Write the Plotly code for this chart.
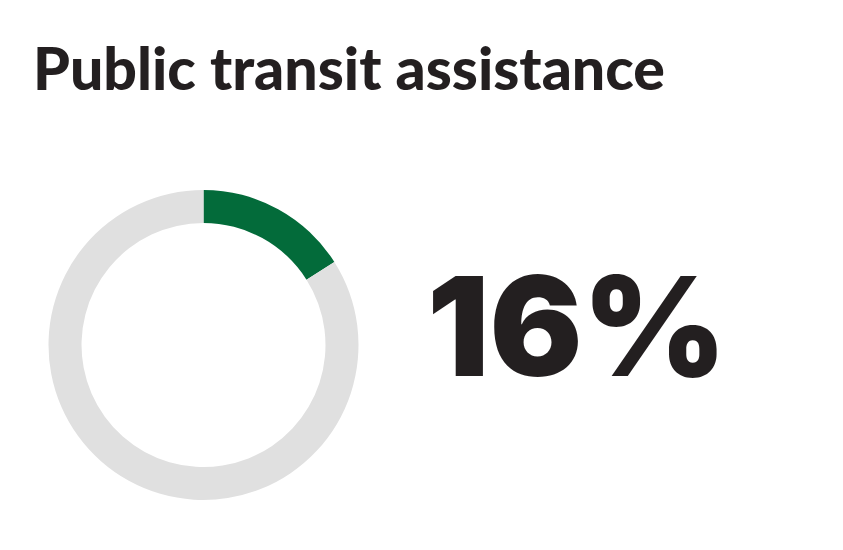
import plotly.graph_objects as go

title_text = "Public transit assistance"
labels = ["Public transit assistance", "Other"]
values = [16, 84]
colors = ["#036b3a", "#e0e0e0"]
big_label = "16%"

W, H = 843, 550
cx, cy, r = 195.5, 337, 155

fig = go.Figure(go.Pie(
    labels=labels, values=values, hole=0.787, sort=False,
    direction="clockwise", rotation=0,
    marker=dict(colors=colors, line=dict(width=0)),
    textinfo="none", hoverinfo="label+percent", showlegend=False,
    domain=dict(x=[(cx - r) / W, (cx + r) / W], y=[(H - cy - r) / H, (H - cy + r) / H]),
))

fig.add_annotation(
    text=title_text, x=23 / W, y=1 - 97 / H, xref="paper", yref="paper",
    xanchor="left", yanchor="bottom", showarrow=False,
    font=dict(family="Lato", size=59, color="#231f20", weight=900),
)
fig.add_annotation(
    text=big_label, x=569 / W, y=1 - 317 / H, xref="paper", yref="paper",
    xanchor="center", yanchor="middle", showarrow=False,
    font=dict(family="Inter", size=138, color="#231f20", weight=900),
)

fig.update_layout(
    width=W, height=H, margin=dict(l=0, r=0, t=0, b=0),
    paper_bgcolor="white", plot_bgcolor="white",
)
fig.write_html("out.html")
